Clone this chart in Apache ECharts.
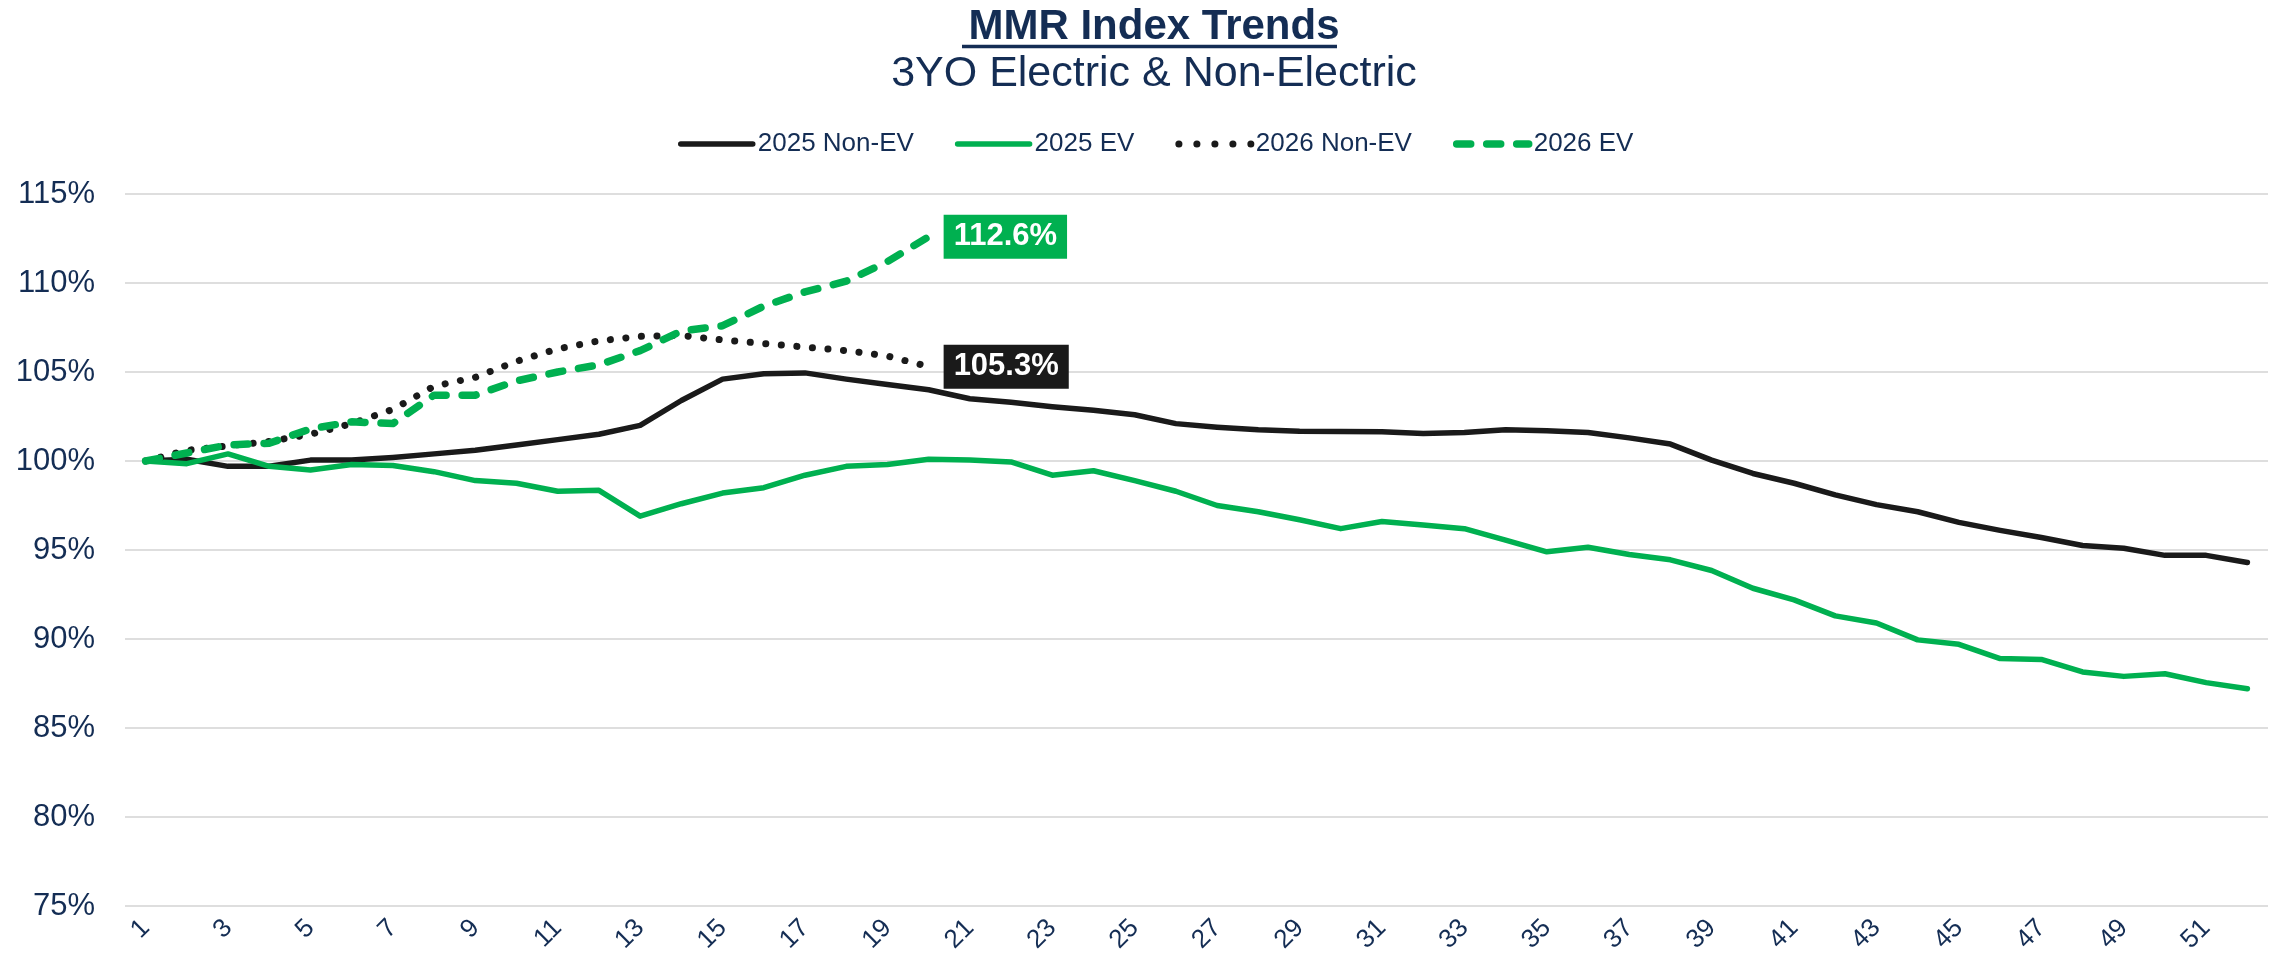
<!DOCTYPE html>
<html>
<head>
<meta charset="utf-8">
<title>MMR Index Trends</title>
<script src="https://cdn.jsdelivr.net/npm/echarts@6/dist/echarts.min.js"></script>
<style>
  html, body { margin: 0; padding: 0; background: #fff; }
  #chart { width: 2275px; height: 968px; }
</style>
</head>
<body>
<div id="chart"></div>
<script>
// weeks 1..52
const weeks = ['1','2','3','4','5','6','7','8','9','10','11','12','13','14','15','16','17','18','19','20',
  '21','22','23','24','25','26','27','28','29','30','31','32','33','34','35','36','37','38','39','40',
  '41','42','43','44','45','46','47','48','49','50','51','52'];

const yTicks = [75, 80, 85, 90, 95, 100, 105, 110, 115];

const nonEv2025 = [100.0, 100.1, 99.7, 99.7, 100.05, 100.05, 100.2, 100.4, 100.6, 100.9,
  101.2, 101.5, 102.0, 103.4, 104.6, 104.9, 104.95, 104.6, 104.3, 104.0,
  103.5, 103.3, 103.05, 102.85, 102.6, 102.1, 101.9, 101.75, 101.67, 101.66,
  101.65, 101.55, 101.6, 101.75, 101.7, 101.6, 101.3, 100.95, 100.05, 99.3,
  98.75, 98.1, 97.55, 97.15, 96.55, 96.1, 95.7, 95.25, 95.1, 94.7,
  94.7, 94.3];

const ev2025 = [100.0, 99.85, 100.4, 99.7, 99.5, 99.8, 99.75, 99.4, 98.9, 98.75,
  98.3, 98.35, 96.9, 97.6, 98.2, 98.5, 99.2, 99.7, 99.8, 100.1,
  100.05, 99.95, 99.2, 99.45, 98.9, 98.3, 97.5, 97.15, 96.7, 96.2,
  96.6, 96.4, 96.2, 95.55, 94.9, 95.15, 94.75, 94.45, 93.85, 92.85,
  92.2, 91.3, 90.9, 89.95, 89.7, 88.9, 88.85, 88.15, 87.9, 88.05,
  87.55, 87.2];

const nonEv2026 = [100.0, 100.6, 100.85, 101.1, 101.5, 102.1, 102.9, 104.2, 104.7, 105.6,
  106.3, 106.75, 107.0, 107.05, 106.8, 106.6, 106.4, 106.2, 105.9, 105.3];

const ev2026 = [100.0, 100.45, 100.9, 101.0, 101.8, 102.2, 102.1, 103.7, 103.7, 104.5,
  105.0, 105.4, 106.2, 107.3, 107.6, 108.7, 109.5, 110.1, 111.2, 112.6];

const NAVY = '#142D54';
const GREEN = '#00B050';
const BLACK = '#1A1A1A';
const FONT = '"Liberation Sans", Arial, sans-serif';

const chart = echarts.init(document.getElementById('chart'));

function endTag(bg) {
    return {
        show: true,
        formatter: p => p.value.toFixed(1) + '%',
        distance: 15,
        backgroundColor: bg,
        color: '#fff',
        fontFamily: FONT,
        fontWeight: 'bold',
        fontSize: 31,
        lineHeight: 32,
        padding: [6, 10, 6, 10]
    };
}

const option = {
    backgroundColor: '#fff',
    animation: false,
    title: [
        {
            text: 'MMR Index Trends',
            left: 1149,
            top: 1,
            textAlign: 'center',
            textStyle: { fontFamily: FONT, fontSize: 42, fontWeight: 'bold', color: NAVY }
        },
        {
            text: '3YO Electric & Non-Electric',
            left: 1149,
            top: 48,
            textAlign: 'center',
            textStyle: { fontFamily: FONT, fontSize: 43, fontWeight: 'normal', color: NAVY }
        }
    ],
    graphic: [
        {
            type: 'line',
            shape: { x1: 962, y1: 46.5, x2: 1337, y2: 46.5 },
            style: { stroke: NAVY, lineWidth: 3.5 }
        }
    ],
    legend: {
        left: 673,
        top: 126,
        itemWidth: 72,
        itemHeight: 28,
        itemGap: 41,
        textStyle: { fontFamily: FONT, fontSize: 26, color: NAVY },
        lineStyle: { width: 'inherit' },
        itemStyle: { opacity: 0 },
        data: [
            '2025 Non-EV',
            '2025 EV',
            { name: '2026 Non-EV', lineStyle: { type: [0.1, 17.9] } },
            '2026 EV'
        ]
    },
    grid: { left: 125, right: 7, top: 194, bottom: 62 },
    xAxis: {
        type: 'category',
        data: weeks,
        boundaryGap: true,
        axisLine: { show: false },
        axisTick: { show: false },
        axisLabel: {
            interval: 1,
            rotate: 45,
            margin: 18,
            fontFamily: FONT,
            fontSize: 26,
            color: NAVY
        }
    },
    yAxis: {
        type: 'value',
        min: yTicks[0],
        max: yTicks[yTicks.length - 1],
        interval: 5,
        axisLine: { show: false },
        axisTick: { show: false },
        axisLabel: {
            formatter: '{value}%',
            margin: 30,
            fontFamily: FONT,
            fontSize: 31,
            color: NAVY
        },
        splitLine: { lineStyle: { color: '#DEDEDE', width: 2 } }
    },
    series: [
        {
            name: '2025 Non-EV',
            type: 'line',
            data: nonEv2025,
            symbol: 'none',
            color: BLACK,
            lineStyle: { color: BLACK, width: 5.5, cap: 'round', join: 'round' }
        },
        {
            name: '2025 EV',
            type: 'line',
            data: ev2025,
            symbol: 'none',
            color: GREEN,
            lineStyle: { color: GREEN, width: 5.5, cap: 'round', join: 'round' }
        },
        {
            name: '2026 Non-EV',
            type: 'line',
            data: nonEv2026,
            symbol: 'none',
            color: BLACK,
            lineStyle: { color: BLACK, width: 7, type: [0.1, 15.5], cap: 'round', join: 'round' },
            endLabel: endTag(BLACK)
        },
        {
            name: '2026 EV',
            type: 'line',
            data: ev2026,
            symbol: 'none',
            color: GREEN,
            lineStyle: { color: GREEN, width: 7.5, type: [14, 16], cap: 'round', join: 'round' },
            endLabel: endTag(GREEN)
        }
    ]
};

chart.setOption(option);
</script>
</body>
</html>
